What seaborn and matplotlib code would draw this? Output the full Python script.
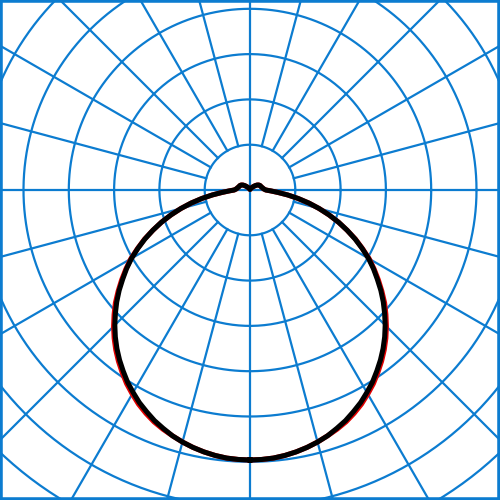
import numpy as np
import pandas as pd
import matplotlib
matplotlib.use("Agg")
import matplotlib.pyplot as plt
import seaborn as sns

# Light distribution (cd/klm), angle measured from nadir
angles = [0, 2.5, 5, 7.5, 10, 12.5, 15, 17.5, 20, 22.5, 25, 27.5, 30, 32.5, 35, 37.5, 40, 42.5, 45,
          47.5, 50, 52.5, 55, 57.5, 60, 62.5, 65, 67.5, 70, 72.5, 75, 77.5, 80, 82.5, 85, 87.5, 90,
          95, 100, 105, 110, 115, 120, 125, 130, 135, 140, 145, 150, 155, 160, 165, 170, 175, 180]
c90_270 = [298, 297.7, 297, 295.5, 293.5, 291, 288, 284.5, 280, 275.5, 270, 264.5, 258, 251.5, 244, 236.5,
           228.5, 220, 211, 201.5, 192, 182, 171.5, 161.5, 151, 139.5, 128, 116, 104, 91.5, 79, 66.5, 54,
           42, 31, 23, 17.5,
           15, 14, 13, 12.5, 12, 11, 9.5, 7.5, 5.5, 4, 3, 2.2, 1.6, 1.2, 1, 0.8, 0.7, 0.6]
c0_180 = [298, 297.7, 297, 295.5, 293.5, 291, 288, 284.5, 281, 277, 272, 266.5, 260, 253.5, 246, 238.5,
          230.5, 222, 213, 203.5, 194, 183.5, 173, 162.5, 152, 140, 128.5, 116, 104, 91.5, 79, 66.5, 54,
          42, 31, 23, 17.5,
          15, 14, 13, 12.5, 12, 11, 9.5, 7.5, 5.5, 4, 3, 2.2, 1.6, 1.2, 1, 0.8, 0.7, 0.6]

ring_step = 50
rings = [50, 100, 150, 200, 250, 300, 350, 400, 450]
spokes = list(range(0, 360, 15))

grid_col = "#0c7cd0"


def to_xy(vals, plane):
    th = np.radians(angles)
    r = np.array(vals, dtype=float)
    # right half then mirrored left half
    xr, yr = r * np.sin(th), -r * np.cos(th)
    x = np.concatenate([xr, -xr[::-1]])
    y = np.concatenate([yr, yr[::-1]])
    return pd.DataFrame({"x": x, "y": y, "plane": plane})


curves = pd.concat([to_xy(c0_180, "C0-C180"), to_xy(c90_270, "C90-C270")], ignore_index=True)

fig = plt.figure(figsize=(5, 5), dpi=100)
ax = fig.add_axes([0, 0, 1, 1])

# 1 px = 50/45.3 data units, centre at (250, 190) px
px = ring_step / 45.3
ax.set_xlim(-250 * px, 250 * px)
ax.set_ylim(-310 * px, 190 * px)
ax.set_aspect("equal")

t = np.linspace(0, 2 * np.pi, 400)
for rr in rings:
    ax.plot(rr * np.cos(t), rr * np.sin(t), color=grid_col, lw=1.6, zorder=1)
for a in spokes:
    ar = np.radians(a)
    r0 = 0 if a % 90 == 0 else ring_step
    ax.plot([r0 * np.cos(ar), 600 * np.cos(ar)], [r0 * np.sin(ar), 600 * np.sin(ar)],
            color=grid_col, lw=1.6, zorder=1)

sns.lineplot(data=curves, x="x", y="y", hue="plane", units="plane", estimator=None, sort=False,
             palette={"C0-C180": "#e00000", "C90-C270": "black"}, linewidth=3.6,
             legend=False, ax=ax, zorder=3)

ax.set_xticks([])
ax.set_yticks([])
ax.set_xlabel("")
ax.set_ylabel("")
for s in ax.spines.values():
    s.set_color(grid_col)
    s.set_linewidth(4)

fig.savefig("out.png", dpi=100)
